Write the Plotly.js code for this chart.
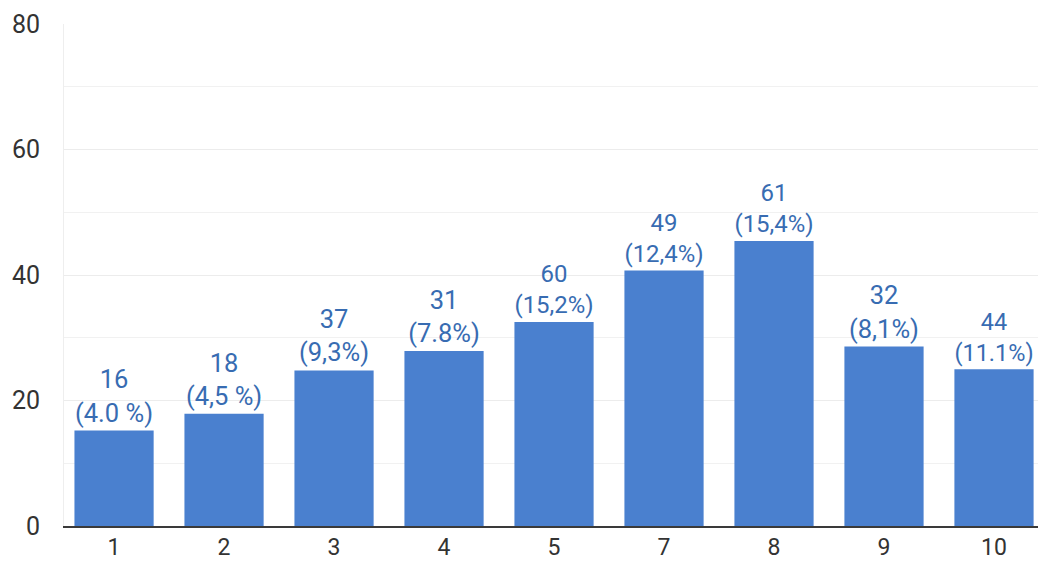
<!DOCTYPE html>
<html>
<head>
<meta charset="utf-8">
<script src="https://cdn.plot.ly/plotly-3.0.1.min.js"></script>
<style>html,body{margin:0;padding:0;background:#fff;overflow:hidden}#chart{width:1038px;height:562px}</style>
</head>
<body>
<div id="chart"></div>
<script>
const categories = ["1", "2", "3", "4", "5", "7", "8", "9", "10"];
const barValues = [15.2, 17.9, 24.8, 27.9, 32.5, 40.7, 45.4, 28.6, 25.0];
const counts = ["16", "18", "37", "31", "60", "49", "61", "32", "44"];
const percents = ["(4.0 %)", "(4,5 %)", "(9,3%)", "(7.8%)", "(15,2%)", "(12,4%)", "(15,4%)", "(8,1%)", "(11.1%)"];
const yTicks = [0, 20, 40, 60, 80];

const labels = counts.map((c, i) => c + "<br>" + percents[i]);

const trace = {
  type: "bar",
  x: categories,
  y: barValues,
  text: labels,
  textposition: "outside",
  cliponaxis: false,
  textfont: {family: "Roboto, 'Noto Sans', sans-serif", size: 25.5, color: "#386cb2"},
  marker: {color: "#4a80cf"},
  hoverinfo: "none"
};

const layout = {
  width: 1038,
  height: 562,
  margin: {l: 64, r: 0, t: 24, b: 36},
  paper_bgcolor: "#ffffff",
  plot_bgcolor: "#ffffff",
  showlegend: false,
  bargap: 0.28,
  font: {family: "Roboto, 'Noto Sans', sans-serif", color: "#333333"},
  xaxis: {
    type: "category",
    range: [-0.455, 8.4],
    showgrid: false,
    showline: true,
    linecolor: "#3a3a3a",
    linewidth: 1.5,
    ticks: "",
    ticklabelstandoff: 0,
    tickfont: {size: 23, color: "#333333"},
    fixedrange: true
  },
  yaxis: {
    range: [0, 80],
    tickvals: yTicks,
    ticktext: yTicks.map(String),
    showgrid: true,
    gridcolor: "#ececec",
    gridwidth: 1,
    minor: {dtick: 10, showgrid: true, gridcolor: "#f1f1f1", gridwidth: 1},
    zeroline: false,
    showline: true,
    linecolor: "#eeeeee",
    linewidth: 1,
    ticks: "",
    ticklabelstandoff: 18,
    tickfont: {size: 25, color: "#333333"},
    fixedrange: true
  }
};

Plotly.newPlot("chart", [trace], layout, {displayModeBar: false, staticPlot: true});
</script>
</body>
</html>
